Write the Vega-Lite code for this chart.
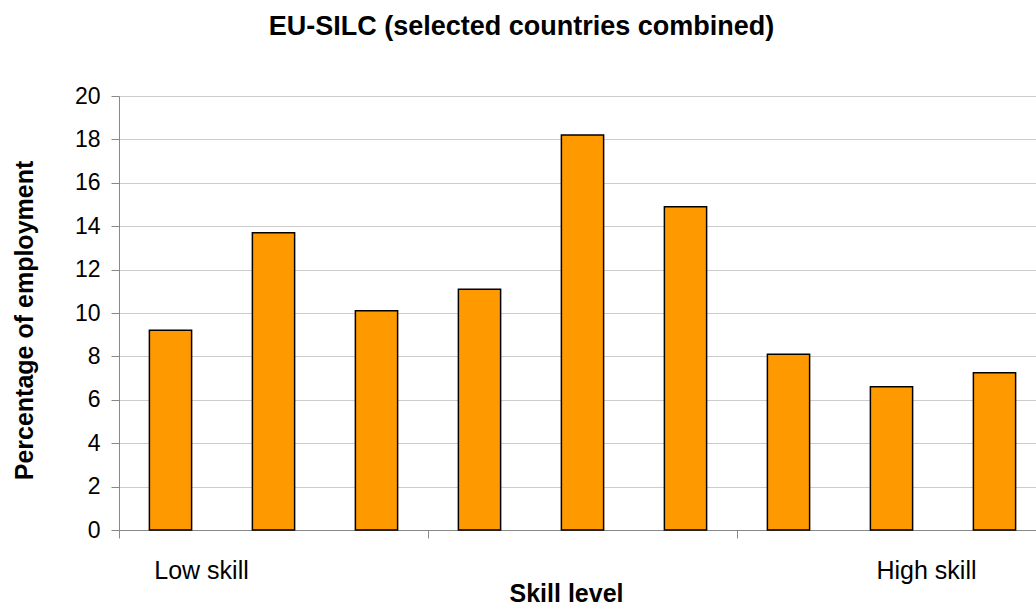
{
  "$schema": "https://vega.github.io/schema/vega-lite/v6.json",
  "autosize": {"type": "none"},
  "padding": {"left": 119, "top": 96, "right": 0, "bottom": 75},
  "width": 917,
  "height": 434,
  "background": "white",
  "title": {
    "text": "EU-SILC (selected countries combined)",
    "font": "Liberation Sans",
    "fontSize": 27,
    "fontWeight": "bold",
    "color": "black",
    "anchor": "middle",
    "baseline": "alphabetic",
    "dx": -56,
    "offset": 23
  },
  "data": {
    "values": [
      {"rank": 1, "pct": 9.2},
      {"rank": 2, "pct": 13.7},
      {"rank": 3, "pct": 10.1},
      {"rank": 4, "pct": 11.1},
      {"rank": 5, "pct": 18.2},
      {"rank": 6, "pct": 14.9},
      {"rank": 7, "pct": 8.1},
      {"rank": 8, "pct": 6.6},
      {"rank": 9, "pct": 7.25}
    ]
  },
  "mark": {
    "type": "bar",
    "width": {"band": 0.41},
    "fill": "#FF9900",
    "stroke": "black",
    "strokeWidth": 1.5
  },
  "encoding": {
    "x": {
      "field": "rank",
      "type": "ordinal",
      "sort": "ascending",
      "scale": {"paddingInner": 0, "paddingOuter": 0, "rangeMax": 927},
      "axis": {
        "title": "Skill level",
        "titleFont": "Liberation Sans",
        "titleFontSize": 25,
        "titleFontWeight": "bold",
        "titleColor": "black",
        "titleX": 447,
        "titleY": 71,
        "titleBaseline": "alphabetic",
        "titleAlign": "center",
        "labelAngle": 0,
        "labelExpr": "datum.value == 1 ? 'Low skill' : datum.value == 9 ? 'High skill' : ''",
        "labelFont": "Liberation Sans",
        "labelFontSize": 25,
        "labelColor": "black",
        "labelBaseline": "alphabetic",
        "labelPadding": 40,
        "labelOffset": {"condition": {"test": "datum.value == 1", "value": 31}, "value": -68},
        "bandPosition": 0,
        "ticks": true,
        "tickSize": 8,
        "tickColor": "#888888",
        "tickOpacity": {"condition": {"test": "datum.value == 1 || datum.value == 4 || datum.value == 7", "value": 1}, "value": 0},
        "domainColor": "#888888",
        "domainWidth": 1,
        "grid": false
      }
    },
    "y": {
      "field": "pct",
      "type": "quantitative",
      "scale": {"domain": [0, 20], "nice": false},
      "axis": {
        "title": "Percentage of employment",
        "titleFont": "Liberation Sans",
        "titleFontSize": 25,
        "titleFontWeight": "bold",
        "titleColor": "black",
        "titleX": -95,
        "titleY": 224,
        "titleAngle": -90,
        "titleAlign": "center",
        "titleBaseline": "middle",
        "values": [0, 2, 4, 6, 8, 10, 12, 14, 16, 18, 20],
        "labelFont": "Liberation Sans",
        "labelFontSize": 23,
        "labelColor": "black",
        "labelPadding": 11,
        "tickSize": 8,
        "tickColor": "#888888",
        "domainColor": "#888888",
        "gridColor": "#CCCCCC",
        "gridWidth": 1.2
      }
    }
  },
  "config": {
    "view": {"stroke": null}
  }
}
